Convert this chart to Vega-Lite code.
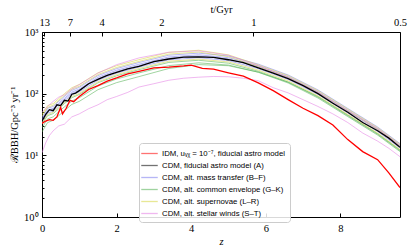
{
  "$schema": "https://vega.github.io/schema/vega-lite/v6.json",
  "width": 358,
  "height": 185,
  "autosize": {"type": "none"},
  "padding": {"left": 42, "top": 32, "right": 13, "bottom": 35},
  "background": "white",
  "datasets": {
    "bands": [
      {"m":"BF","id":"B1","z":0,"r":39},{"m":"BF","id":"B1","z":0.15,"r":54},{"m":"BF","id":"B1","z":0.3,"r":58},{"m":"BF","id":"B1","z":0.45,"r":70},{"m":"BF","id":"B1","z":0.6,"r":84},{"m":"BF","id":"B1","z":0.8,"r":106},{"m":"BF","id":"B1","z":1.0,"r":119},{"m":"BF","id":"B1","z":1.5,"r":184},{"m":"BF","id":"B1","z":2.0,"r":240},{"m":"BF","id":"B1","z":2.6,"r":300},{"m":"BF","id":"B1","z":3.4,"r":394},{"m":"BF","id":"B1","z":4.2,"r":427},{"m":"BF","id":"B1","z":5.0,"r":383},{"m":"BF","id":"B1","z":5.8,"r":283},{"m":"BF","id":"B1","z":6.6,"r":189},{"m":"BF","id":"B1","z":7.4,"r":108},{"m":"BF","id":"B1","z":8.2,"r":54},{"m":"BF","id":"B1","z":9.0,"r":27},{"m":"BF","id":"B1","z":9.6,"r":14.6},
      {"m":"BF","id":"B2","z":0,"r":41},{"m":"BF","id":"B2","z":0.15,"r":58},{"m":"BF","id":"B2","z":0.3,"r":62},{"m":"BF","id":"B2","z":0.45,"r":75},{"m":"BF","id":"B2","z":0.6,"r":90},{"m":"BF","id":"B2","z":0.8,"r":113},{"m":"BF","id":"B2","z":1.0,"r":127},{"m":"BF","id":"B2","z":1.5,"r":196},{"m":"BF","id":"B2","z":2.0,"r":255},{"m":"BF","id":"B2","z":2.6,"r":320},{"m":"BF","id":"B2","z":3.4,"r":420},{"m":"BF","id":"B2","z":4.2,"r":454},{"m":"BF","id":"B2","z":5.0,"r":408},{"m":"BF","id":"B2","z":5.8,"r":301},{"m":"BF","id":"B2","z":6.6,"r":201},{"m":"BF","id":"B2","z":7.4,"r":115},{"m":"BF","id":"B2","z":8.2,"r":57.5},{"m":"BF","id":"B2","z":9.0,"r":28.8},{"m":"BF","id":"B2","z":9.6,"r":15.5},
      {"m":"BF","id":"B3","z":0,"r":35},{"m":"BF","id":"B3","z":0.15,"r":48.5},{"m":"BF","id":"B3","z":0.3,"r":52},{"m":"BF","id":"B3","z":0.45,"r":63},{"m":"BF","id":"B3","z":0.6,"r":76},{"m":"BF","id":"B3","z":0.8,"r":95},{"m":"BF","id":"B3","z":1.0,"r":107},{"m":"BF","id":"B3","z":1.5,"r":165},{"m":"BF","id":"B3","z":2.0,"r":215},{"m":"BF","id":"B3","z":2.6,"r":270},{"m":"BF","id":"B3","z":3.4,"r":354},{"m":"BF","id":"B3","z":4.2,"r":383},{"m":"BF","id":"B3","z":5.0,"r":344},{"m":"BF","id":"B3","z":5.8,"r":254},{"m":"BF","id":"B3","z":6.6,"r":170},{"m":"BF","id":"B3","z":7.4,"r":97},{"m":"BF","id":"B3","z":8.2,"r":48.5},{"m":"BF","id":"B3","z":9.0,"r":24.3},{"m":"BF","id":"B3","z":9.6,"r":13.1},
      {"m":"BF","id":"B4","z":0,"r":37},{"m":"BF","id":"B4","z":0.15,"r":51.5},{"m":"BF","id":"B4","z":0.3,"r":56},{"m":"BF","id":"B4","z":0.45,"r":67},{"m":"BF","id":"B4","z":0.6,"r":80},{"m":"BF","id":"B4","z":0.8,"r":101},{"m":"BF","id":"B4","z":1.0,"r":113},{"m":"BF","id":"B4","z":1.5,"r":175},{"m":"BF","id":"B4","z":2.0,"r":229},{"m":"BF","id":"B4","z":2.6,"r":286},{"m":"BF","id":"B4","z":3.4,"r":376},{"m":"BF","id":"B4","z":4.2,"r":407},{"m":"BF","id":"B4","z":5.0,"r":366},{"m":"BF","id":"B4","z":5.8,"r":270},{"m":"BF","id":"B4","z":6.6,"r":180},{"m":"BF","id":"B4","z":7.4,"r":103},{"m":"BF","id":"B4","z":8.2,"r":51.5},{"m":"BF","id":"B4","z":9.0,"r":25.8},{"m":"BF","id":"B4","z":9.6,"r":13.9},
      {"m":"GK","id":"G1","z":0,"r":32},{"m":"GK","id":"G1","z":0.15,"r":44},{"m":"GK","id":"G1","z":0.3,"r":47.5},{"m":"GK","id":"G1","z":0.45,"r":57},{"m":"GK","id":"G1","z":0.6,"r":69},{"m":"GK","id":"G1","z":0.8,"r":86},{"m":"GK","id":"G1","z":1.0,"r":97},{"m":"GK","id":"G1","z":1.5,"r":150},{"m":"GK","id":"G1","z":2.0,"r":195},{"m":"GK","id":"G1","z":2.6,"r":245},{"m":"GK","id":"G1","z":3.4,"r":321},{"m":"GK","id":"G1","z":4.2,"r":348},{"m":"GK","id":"G1","z":5.0,"r":312},{"m":"GK","id":"G1","z":5.8,"r":231},{"m":"GK","id":"G1","z":6.6,"r":154},{"m":"GK","id":"G1","z":7.4,"r":88},{"m":"GK","id":"G1","z":8.2,"r":44},{"m":"GK","id":"G1","z":9.0,"r":22},{"m":"GK","id":"G1","z":9.6,"r":11.9},
      {"m":"GK","id":"G2","z":0,"r":28},{"m":"GK","id":"G2","z":0.15,"r":39},{"m":"GK","id":"G2","z":0.3,"r":42},{"m":"GK","id":"G2","z":0.45,"r":51},{"m":"GK","id":"G2","z":0.6,"r":61},{"m":"GK","id":"G2","z":0.8,"r":76},{"m":"GK","id":"G2","z":1.0,"r":86},{"m":"GK","id":"G2","z":1.5,"r":133},{"m":"GK","id":"G2","z":2.0,"r":173},{"m":"GK","id":"G2","z":2.6,"r":217},{"m":"GK","id":"G2","z":3.4,"r":285},{"m":"GK","id":"G2","z":4.2,"r":316},{"m":"GK","id":"G2","z":5.0,"r":291},{"m":"GK","id":"G2","z":5.8,"r":223},{"m":"GK","id":"G2","z":6.6,"r":149},{"m":"GK","id":"G2","z":7.4,"r":85},{"m":"GK","id":"G2","z":8.2,"r":42.5},{"m":"GK","id":"G2","z":9.0,"r":21.3},{"m":"GK","id":"G2","z":9.6,"r":11.5},
      {"m":"GK","id":"G3","z":0,"r":24},{"m":"GK","id":"G3","z":0.15,"r":34},{"m":"GK","id":"G3","z":0.3,"r":37},{"m":"GK","id":"G3","z":0.45,"r":44},{"m":"GK","id":"G3","z":0.6,"r":53},{"m":"GK","id":"G3","z":0.8,"r":67},{"m":"GK","id":"G3","z":1.0,"r":75},{"m":"GK","id":"G3","z":1.5,"r":116},{"m":"GK","id":"G3","z":2.0,"r":151},{"m":"GK","id":"G3","z":2.6,"r":189},{"m":"GK","id":"G3","z":3.4,"r":256},{"m":"GK","id":"G3","z":4.2,"r":296},{"m":"GK","id":"G3","z":5.0,"r":284},{"m":"GK","id":"G3","z":5.8,"r":223},{"m":"GK","id":"G3","z":6.6,"r":154},{"m":"GK","id":"G3","z":7.4,"r":90},{"m":"GK","id":"G3","z":8.2,"r":45},{"m":"GK","id":"G3","z":9.0,"r":22.5},{"m":"GK","id":"G3","z":9.6,"r":12.2},
      {"m":"LR","id":"L1","z":0,"r":46},{"m":"LR","id":"L1","z":0.15,"r":64},{"m":"LR","id":"L1","z":0.3,"r":69},{"m":"LR","id":"L1","z":0.45,"r":83},{"m":"LR","id":"L1","z":0.6,"r":100},{"m":"LR","id":"L1","z":0.8,"r":125},{"m":"LR","id":"L1","z":1.0,"r":141},{"m":"LR","id":"L1","z":1.5,"r":218},{"m":"LR","id":"L1","z":2.0,"r":284},{"m":"LR","id":"L1","z":2.6,"r":356},{"m":"LR","id":"L1","z":3.4,"r":467},{"m":"LR","id":"L1","z":4.2,"r":506},{"m":"LR","id":"L1","z":5.0,"r":426},{"m":"LR","id":"L1","z":5.8,"r":293},{"m":"LR","id":"L1","z":6.6,"r":196},{"m":"LR","id":"L1","z":7.4,"r":112},{"m":"LR","id":"L1","z":8.2,"r":56},{"m":"LR","id":"L1","z":9.0,"r":28},{"m":"LR","id":"L1","z":9.6,"r":15.1},
      {"m":"LR","id":"L2","z":0,"r":43},{"m":"LR","id":"L2","z":0.15,"r":60},{"m":"LR","id":"L2","z":0.3,"r":65},{"m":"LR","id":"L2","z":0.45,"r":78},{"m":"LR","id":"L2","z":0.6,"r":94},{"m":"LR","id":"L2","z":0.8,"r":118},{"m":"LR","id":"L2","z":1.0,"r":132},{"m":"LR","id":"L2","z":1.5,"r":204},{"m":"LR","id":"L2","z":2.0,"r":266},{"m":"LR","id":"L2","z":2.6,"r":334},{"m":"LR","id":"L2","z":3.4,"r":438},{"m":"LR","id":"L2","z":4.2,"r":474},{"m":"LR","id":"L2","z":5.0,"r":398},{"m":"LR","id":"L2","z":5.8,"r":275},{"m":"LR","id":"L2","z":6.6,"r":184},{"m":"LR","id":"L2","z":7.4,"r":105},{"m":"LR","id":"L2","z":8.2,"r":52.5},{"m":"LR","id":"L2","z":9.0,"r":26.3},{"m":"LR","id":"L2","z":9.6,"r":14.2},
      {"m":"LR","id":"L3","z":0,"r":33},{"m":"LR","id":"L3","z":0.15,"r":46},{"m":"LR","id":"L3","z":0.3,"r":50},{"m":"LR","id":"L3","z":0.45,"r":60},{"m":"LR","id":"L3","z":0.6,"r":72},{"m":"LR","id":"L3","z":0.8,"r":90},{"m":"LR","id":"L3","z":1.0,"r":101},{"m":"LR","id":"L3","z":1.5,"r":156},{"m":"LR","id":"L3","z":2.0,"r":204},{"m":"LR","id":"L3","z":2.6,"r":256},{"m":"LR","id":"L3","z":3.4,"r":336},{"m":"LR","id":"L3","z":4.2,"r":363},{"m":"LR","id":"L3","z":5.0,"r":327},{"m":"LR","id":"L3","z":5.8,"r":241},{"m":"LR","id":"L3","z":6.6,"r":161},{"m":"LR","id":"L3","z":7.4,"r":92},{"m":"LR","id":"L3","z":8.2,"r":46},{"m":"LR","id":"L3","z":9.0,"r":23},{"m":"LR","id":"L3","z":9.6,"r":12.4},
      {"m":"ST","id":"S1","z":0,"r":50},{"m":"ST","id":"S1","z":0.15,"r":62},{"m":"ST","id":"S1","z":0.3,"r":75},{"m":"ST","id":"S1","z":0.45,"r":88},{"m":"ST","id":"S1","z":0.6,"r":96},{"m":"ST","id":"S1","z":0.8,"r":120},{"m":"ST","id":"S1","z":1.0,"r":140},{"m":"ST","id":"S1","z":1.5,"r":215},{"m":"ST","id":"S1","z":2.0,"r":295},{"m":"ST","id":"S1","z":2.6,"r":380},{"m":"ST","id":"S1","z":3.4,"r":470},{"m":"ST","id":"S1","z":4.2,"r":495},{"m":"ST","id":"S1","z":5.0,"r":420},{"m":"ST","id":"S1","z":5.8,"r":285},{"m":"ST","id":"S1","z":6.6,"r":185},{"m":"ST","id":"S1","z":7.4,"r":106},{"m":"ST","id":"S1","z":8.2,"r":53},{"m":"ST","id":"S1","z":9.0,"r":27},{"m":"ST","id":"S1","z":9.6,"r":14.5},
      {"m":"ST","id":"S2","z":0,"r":11},{"m":"ST","id":"S2","z":0.1,"r":16},{"m":"ST","id":"S2","z":0.2,"r":21},{"m":"ST","id":"S2","z":0.3,"r":25},{"m":"ST","id":"S2","z":0.45,"r":30},{"m":"ST","id":"S2","z":0.6,"r":32},{"m":"ST","id":"S2","z":0.8,"r":42},{"m":"ST","id":"S2","z":1.0,"r":47},{"m":"ST","id":"S2","z":1.25,"r":57},{"m":"ST","id":"S2","z":1.5,"r":66},{"m":"ST","id":"S2","z":1.75,"r":80},{"m":"ST","id":"S2","z":2.0,"r":90},{"m":"ST","id":"S2","z":2.3,"r":105},{"m":"ST","id":"S2","z":2.6,"r":128},{"m":"ST","id":"S2","z":3.0,"r":145},{"m":"ST","id":"S2","z":3.4,"r":165},{"m":"ST","id":"S2","z":3.8,"r":178},{"m":"ST","id":"S2","z":4.2,"r":185},{"m":"ST","id":"S2","z":4.6,"r":190},{"m":"ST","id":"S2","z":5.0,"r":188},{"m":"ST","id":"S2","z":5.4,"r":178},{"m":"ST","id":"S2","z":5.8,"r":162},{"m":"ST","id":"S2","z":6.2,"r":125},{"m":"ST","id":"S2","z":6.6,"r":103},{"m":"ST","id":"S2","z":7.0,"r":80},{"m":"ST","id":"S2","z":7.4,"r":62},{"m":"ST","id":"S2","z":7.8,"r":47},{"m":"ST","id":"S2","z":8.2,"r":34},{"m":"ST","id":"S2","z":8.6,"r":23},{"m":"ST","id":"S2","z":9.0,"r":17},{"m":"ST","id":"S2","z":9.3,"r":13},{"m":"ST","id":"S2","z":9.6,"r":9.5}
    ],
    "main": [
      {"m":"A","z":0,"r":36},{"m":"A","z":0.1,"r":46},{"m":"A","z":0.2,"r":55},{"m":"A","z":0.3,"r":53},{"m":"A","z":0.4,"r":66},{"m":"A","z":0.5,"r":64},{"m":"A","z":0.6,"r":78},{"m":"A","z":0.7,"r":76},{"m":"A","z":0.8,"r":98},{"m":"A","z":0.9,"r":102},{"m":"A","z":1.0,"r":112},{"m":"A","z":1.25,"r":145},{"m":"A","z":1.5,"r":170},{"m":"A","z":1.75,"r":198},{"m":"A","z":2.0,"r":222},{"m":"A","z":2.3,"r":252},{"m":"A","z":2.6,"r":278},{"m":"A","z":3.0,"r":330},{"m":"A","z":3.4,"r":365},{"m":"A","z":3.8,"r":392},{"m":"A","z":4.2,"r":395},{"m":"A","z":4.6,"r":388},{"m":"A","z":5.0,"r":355},{"m":"A","z":5.4,"r":318},{"m":"A","z":5.8,"r":262},{"m":"A","z":6.2,"r":215},{"m":"A","z":6.6,"r":175},{"m":"A","z":7.0,"r":135},{"m":"A","z":7.4,"r":100},{"m":"A","z":7.8,"r":70},{"m":"A","z":8.2,"r":50},{"m":"A","z":8.6,"r":34},{"m":"A","z":9.0,"r":25},{"m":"A","z":9.3,"r":19},{"m":"A","z":9.6,"r":13.5},
      {"m":"IDM","z":0,"r":33},{"m":"IDM","z":0.1,"r":36},{"m":"IDM","z":0.2,"r":38},{"m":"IDM","z":0.3,"r":37},{"m":"IDM","z":0.4,"r":42},{"m":"IDM","z":0.5,"r":60},{"m":"IDM","z":0.55,"r":47},{"m":"IDM","z":0.65,"r":58},{"m":"IDM","z":0.75,"r":78},{"m":"IDM","z":0.85,"r":74},{"m":"IDM","z":1.0,"r":90},{"m":"IDM","z":1.25,"r":117},{"m":"IDM","z":1.5,"r":135},{"m":"IDM","z":1.75,"r":160},{"m":"IDM","z":2.0,"r":180},{"m":"IDM","z":2.3,"r":210},{"m":"IDM","z":2.6,"r":230},{"m":"IDM","z":3.0,"r":262},{"m":"IDM","z":3.4,"r":270},{"m":"IDM","z":3.8,"r":282},{"m":"IDM","z":4.0,"r":290},{"m":"IDM","z":4.3,"r":258},{"m":"IDM","z":4.6,"r":250},{"m":"IDM","z":5.0,"r":218},{"m":"IDM","z":5.4,"r":192},{"m":"IDM","z":5.8,"r":150},{"m":"IDM","z":6.2,"r":112},{"m":"IDM","z":6.6,"r":80},{"m":"IDM","z":7.0,"r":58},{"m":"IDM","z":7.4,"r":44},{"m":"IDM","z":7.8,"r":31},{"m":"IDM","z":8.2,"r":18},{"m":"IDM","z":8.6,"r":11.5},{"m":"IDM","z":9.0,"r":8.5},{"m":"IDM","z":9.3,"r":5.2},{"m":"IDM","z":9.6,"r":3.0}
    ]
  },
  "layer": [
    {
      "data": {"name": "bands"},
      "mark": {"type": "line", "strokeWidth": 1, "opacity": 0.55, "clip": true},
      "encoding": {
        "x": {"field": "z", "type": "quantitative", "scale": {"domain": [0, 9.6], "nice": false},
          "axis": {"orient": "bottom", "title": "z", "titleFontStyle": "italic", "values": [0, 2, 4, 6, 8], "format": "d", "tickSize": -4, "labelPadding": 10, "titlePadding": 3}},
        "y": {"field": "r", "type": "quantitative", "scale": {"type": "log", "domain": [1, 1000], "nice": false},
          "axis": {"orient": "left", "title": "ℛBBH/Gpc⁻³ yr⁻¹", "values": [1, 10, 100, 1000], "tickSize": -4, "labelPadding": 8, "titlePadding": 4,
            "labelExpr": "datum.value == 1 ? '10⁰' : datum.value == 10 ? '10¹' : datum.value == 100 ? '10²' : '10³'"}},
        "color": {"field": "m", "type": "nominal",
          "scale": {"domain": ["IDM", "A", "BF", "GK", "LR", "ST"], "range": ["#ff0000", "#000000", "#7b7bef", "#52b052", "#d6d640", "#e47ee4"]},
          "legend": {"title": null, "orient": "none", "legendX": 97, "legendY": 111,
            "labelExpr": "datum.value == 'IDM' ? 'IDM, uᵥᵪ = 10⁻⁷, fiducial astro model' : datum.value == 'A' ? 'CDM, fiducial astro model (A)' : datum.value == 'BF' ? 'CDM, alt. mass transfer (B–F)' : datum.value == 'GK' ? 'CDM, alt. common envelope (G–K)' : datum.value == 'LR' ? 'CDM, alt. supernovae (L–R)' : 'CDM, alt. stellar winds (S–T)'"}},
        "detail": {"field": "id"}
      }
    },
    {
      "data": {"name": "main"},
      "mark": {"type": "line", "strokeWidth": 1.3, "clip": true},
      "encoding": {
        "x": {"field": "z", "type": "quantitative",
          "axis": {"orient": "top", "title": "t/Gyr", "values": [0.06, 0.75, 1.6, 3.2, 5.67, 9.6], "tickSize": -4, "labelPadding": 9, "titlePadding": 3,
            "labelExpr": "datum.value < 0.5 ? '13' : datum.value < 1 ? '7' : datum.value < 2 ? '4' : datum.value < 4 ? '2' : datum.value < 7 ? '1' : '0.5'"}},
        "y": {"field": "r", "type": "quantitative",
          "axis": {"orient": "left", "title": null, "labels": false, "tickSize": -2,
            "values": [2,3,4,5,6,7,8,9,20,30,40,50,60,70,80,90,200,300,400,500,600,700,800,900]}},
        "color": {"field": "m", "type": "nominal"}
      }
    }
  ],
  "resolve": {"axis": {"x": "independent", "y": "independent"}},
  "config": {
    "view": {"stroke": "black", "strokeWidth": 1},
    "axis": {"labelFont": "Liberation Serif", "titleFont": "Liberation Serif", "labelFontSize": 10.5, "titleFontSize": 10.5,
      "labelColor": "black", "titleColor": "black", "tickColor": "black", "grid": false, "domain": false, "labelFlush": false, "titleFontWeight": "normal"},
    "legend": {"labelFont": "Liberation Sans", "labelFontSize": 7.8, "labelColor": "black", "symbolType": "M-1.5,0H1.5", "symbolSize": 121, "symbolStrokeWidth": 1.3,
      "fillColor": "rgba(255,255,255,0.85)", "strokeColor": "#cccccc", "cornerRadius": 3, "padding": 4, "rowPadding": 1, "labelOffset": 6}
  }
}
